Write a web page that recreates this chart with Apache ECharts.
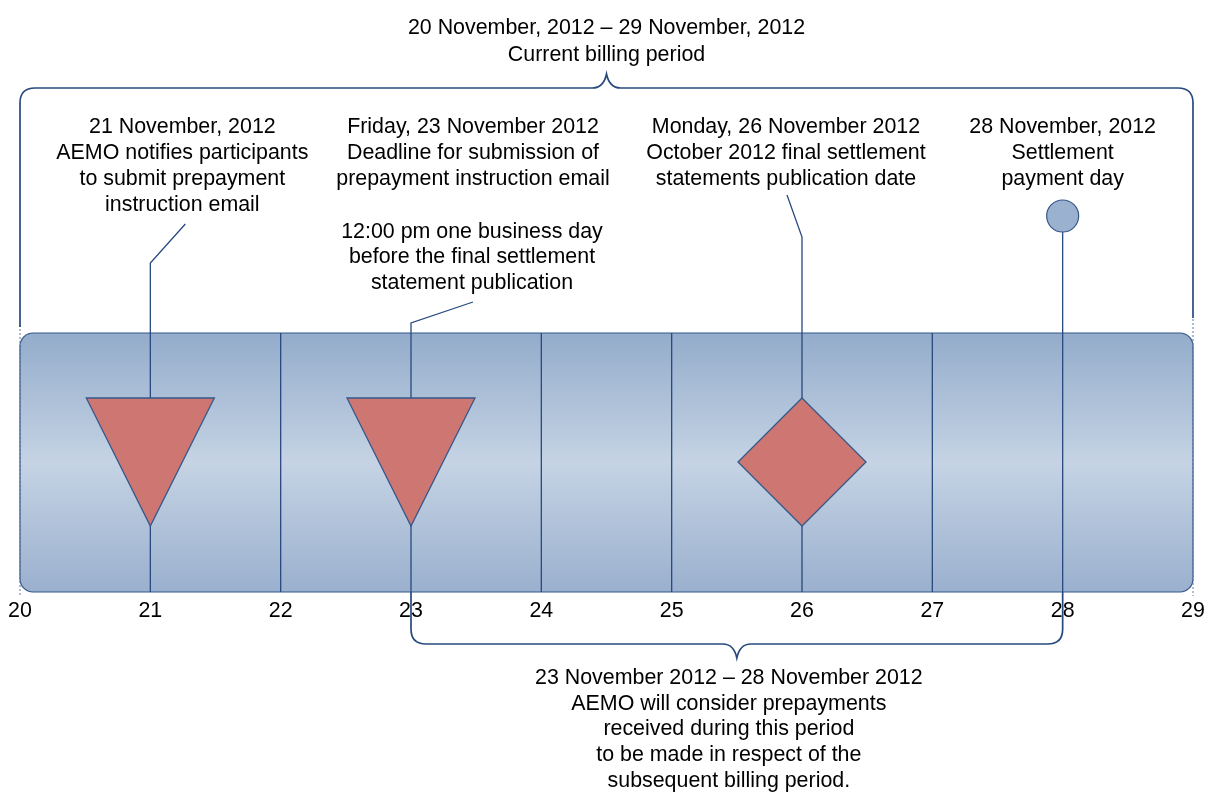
<!DOCTYPE html>
<html>
<head>
<meta charset="utf-8">
<title>Prepayment timeline</title>
<script src="https://cdn.jsdelivr.net/npm/echarts@6/dist/echarts.min.js"></script>
<style>
  html, body { margin: 0; padding: 0; background: #fff; }
  #chart { width: 1213px; height: 792px; }
</style>
</head>
<body>
<div id="chart"></div>
<script>
// days along the axis (November 2012)
const dayTicks = [20, 21, 22, 23, 24, 25, 26, 27, 28, 29];
// plain day separators inside the band
const dividerDays = [22, 24, 25, 27];
// events on the timeline
const eventDays = [21, 23, 26, 28];
const eventShapes = ['triangle', 'triangle', 'diamond', 'circle'];
const eventLabels = [
  '21 November, 2012\nAEMO notifies participants\nto submit prepayment\ninstruction email',
  'Friday, 23 November 2012\nDeadline for submission of\nprepayment instruction email',
  'Monday, 26 November 2012\nOctober 2012 final settlement\nstatements publication date',
  '28 November, 2012\nSettlement\npayment day'
];
const deadlineNote = '12:00 pm one business day\nbefore the final settlement\nstatement publication';
// periods shown with braces
const billingPeriod = [20, 29];
const billingLabel = '20 November, 2012 – 29 November, 2012\nCurrent billing period';
const prepayPeriod = [23, 28];
const prepayLabel = '23 November 2012 – 28 November 2012\nAEMO will consider prepayments\nreceived during this period\nto be made in respect of the\nsubsequent billing period.';

// layout (vertical units of the hidden y axis, top = 0)
const BAND_TOP = 333;
const BAND_BOTTOM = 592;
const MARK_TOP = 398;
const MARK_BOTTOM = 526;
const MARK_HALF = 64;
const CIRCLE_Y = 216;
const CIRCLE_R = 16;
const eventLayout = [
  { bendY: 263, tipDx: 35, tipY: 224, textDx: 32, textY: 114 },
  { bendY: 323, tipDx: 62, tipY: 302, textDx: 62, textY: 114 },
  { bendY: 237, tipDx: -15, tipY: 195, textDx: -16, textY: 114 },
  { bendY: null, textDx: 0, textY: 114 }
];

const FONT = '"Liberation Sans", Arial, Helvetica, sans-serif';
const FONT_SIZE = 21.4;
const LINE = '#284a7e';
const MARK_FILL = '#cd7672';

const chart = echarts.init(document.getElementById('chart'));

function textEl(text, x, y, lineHeight) {
  return {
    type: 'text',
    style: {
      text: text,
      x: x,
      y: y,
      align: 'center',
      verticalAlign: 'top',
      fontSize: FONT_SIZE,
      fontFamily: FONT,
      fill: '#000',
      lineHeight: lineHeight || 26
    }
  };
}

// band with gradient and day separators
function renderBand(params, api) {
  const x0 = api.coord([api.value(0), BAND_TOP])[0];
  const x1 = api.coord([api.value(1), BAND_TOP])[0];
  const yTop = api.coord([api.value(0), BAND_TOP])[1];
  const yBot = api.coord([api.value(0), BAND_BOTTOM])[1];
  return {
    type: 'group',
    children: [
      {
        type: 'rect',
        shape: { x: x0, y: yTop, width: x1 - x0, height: yBot - yTop, r: 13 },
        style: {
          fill: new echarts.graphic.LinearGradient(0, 0, 0, 1, [
            { offset: 0, color: '#93accb' },
            { offset: 0.5, color: '#c5d3e4' },
            { offset: 1, color: '#9ab0ce' }
          ]),
          stroke: '#34588a',
          lineWidth: 1.2
        }
      },
      {
        type: 'line',
        shape: { x1: x0, y1: yTop - 8, x2: x0, y2: yBot + 4 },
        style: { stroke: '#5b7aa6', lineWidth: 1, lineDash: [2, 2] }
      },
      {
        type: 'line',
        shape: { x1: x1, y1: yTop - 14, x2: x1, y2: yBot + 4 },
        style: { stroke: '#5b7aa6', lineWidth: 1, lineDash: [2, 2] }
      }
    ]
  };
}

function renderDivider(params, api) {
  const p0 = api.coord([api.value(0), BAND_TOP]);
  const p1 = api.coord([api.value(0), BAND_BOTTOM]);
  return {
    type: 'line',
    shape: { x1: p0[0], y1: p0[1], x2: p1[0], y2: p1[1] },
    style: { stroke: LINE, lineWidth: 1.3 }
  };
}

function renderEvent(params, api) {
  const i = params.dataIndex;
  const lay = eventLayout[i];
  const x = api.coord([api.value(0), 0])[0];
  const y = v => api.coord([api.value(0), v])[1];
  const children = [];
  const shape = eventShapes[i];

  if (shape === 'circle') {
    children.push({
      type: 'line',
      shape: { x1: x, y1: y(CIRCLE_Y + CIRCLE_R), x2: x, y2: y(BAND_BOTTOM) },
      style: { stroke: LINE, lineWidth: 1.3 }
    });
    children.push({
      type: 'circle',
      shape: { cx: x, cy: y(CIRCLE_Y), r: CIRCLE_R },
      style: { fill: '#9bb1d0', stroke: '#34588a', lineWidth: 1.2 }
    });
  } else {
    children.push({
      type: 'polyline',
      shape: { points: [[x, y(BAND_BOTTOM)], [x, y(lay.bendY)], [x + lay.tipDx, y(lay.tipY)]] },
      style: { stroke: LINE, lineWidth: 1.3, fill: null }
    });
    let pts;
    if (shape === 'triangle') {
      pts = [[x - MARK_HALF, y(MARK_TOP)], [x + MARK_HALF, y(MARK_TOP)], [x, y(MARK_BOTTOM)]];
    } else {
      const mid = (MARK_TOP + MARK_BOTTOM) / 2;
      pts = [[x, y(MARK_TOP)], [x + MARK_HALF, y(mid)], [x, y(MARK_BOTTOM)], [x - MARK_HALF, y(mid)]];
    }
    children.push({
      type: 'polygon',
      shape: { points: pts },
      style: { fill: MARK_FILL, stroke: '#34588a', lineWidth: 1.3 }
    });
  }
  children.push(textEl(eventLabels[i], x + lay.textDx, y(lay.textY)));
  return { type: 'group', children: children };
}

function renderNote(params, api) {
  const p = api.coord([api.value(0), 219]);
  return textEl(deadlineNote, p[0] + 61, p[1], 25.5);
}

// curly braces for the two periods
function renderBrace(params, api) {
  const top = params.dataIndex === 0;
  const xl = api.coord([api.value(0), 0])[0];
  const xr = api.coord([api.value(1), 0])[0];
  const xm = (xl + xr) / 2;
  const y = v => api.coord([api.value(0), v])[1];
  const r = 15;
  const w = 14;
  let d;
  let text;
  if (top) {
    const b = y(88), pk = y(74);
    d = 'M' + xl + ' ' + y(327) + ' L' + xl + ' ' + (b + r) +
      ' Q' + xl + ' ' + b + ' ' + (xl + r) + ' ' + b +
      ' L' + (xm - w) + ' ' + b +
      ' Q' + (xm - 3) + ' ' + b + ' ' + xm + ' ' + pk +
      ' Q' + (xm + 3) + ' ' + b + ' ' + (xm + w) + ' ' + b +
      ' L' + (xr - r) + ' ' + b +
      ' Q' + xr + ' ' + b + ' ' + xr + ' ' + (b + r) +
      ' L' + xr + ' ' + y(318);
    text = textEl(billingLabel, xm, y(15), 26.5);
  } else {
    const b = y(644), pk = y(658);
    d = 'M' + xl + ' ' + y(BAND_BOTTOM) + ' L' + xl + ' ' + (b - r) +
      ' Q' + xl + ' ' + b + ' ' + (xl + r) + ' ' + b +
      ' L' + (xm - w) + ' ' + b +
      ' Q' + (xm - 3) + ' ' + b + ' ' + xm + ' ' + pk +
      ' Q' + (xm + 3) + ' ' + b + ' ' + (xm + w) + ' ' + b +
      ' L' + (xr - r) + ' ' + b +
      ' Q' + xr + ' ' + b + ' ' + xr + ' ' + (b - r) +
      ' L' + xr + ' ' + y(BAND_BOTTOM);
    text = textEl(prepayLabel, xm - 8, y(665), 25.8);
  }
  return {
    type: 'group',
    children: [
      { type: 'path', shape: { pathData: d }, style: { stroke: LINE, lineWidth: 1.7, fill: null } },
      text
    ]
  };
}

const option = {
  animation: false,
  grid: { left: 20, right: 20, top: 0, height: BAND_BOTTOM },
  xAxis: {
    type: 'value',
    min: dayTicks[0],
    max: dayTicks[dayTicks.length - 1],
    interval: 1,
    axisLine: { show: false, onZero: false },
    axisTick: { show: false },
    splitLine: { show: false },
    axisLabel: { fontSize: FONT_SIZE, fontFamily: FONT, color: '#000', margin: 9 }
  },
  yAxis: {
    type: 'value',
    min: 0,
    max: BAND_BOTTOM,
    inverse: true,
    show: false
  },
  series: [
    { type: 'custom', z: 1, renderItem: renderBand, data: [[billingPeriod[0], billingPeriod[1]]] },
    { type: 'custom', z: 2, renderItem: renderDivider, data: dividerDays.map(d => [d, 0]) },
    { type: 'custom', z: 3, renderItem: renderEvent, data: eventDays.map((d, i) => [d, i]) },
    { type: 'custom', z: 3, renderItem: renderNote, data: [[eventDays[1], 0]] },
    { type: 'custom', z: 4, renderItem: renderBrace, data: [[billingPeriod[0], billingPeriod[1]], [prepayPeriod[0], prepayPeriod[1]]] }
  ]
};

chart.setOption(option);
</script>
</body>
</html>
